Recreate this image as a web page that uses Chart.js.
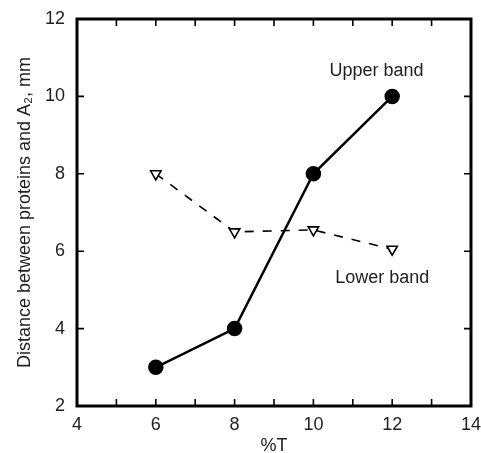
<!DOCTYPE html>
<html>
<head>
<meta charset="utf-8">
<script src="https://cdn.jsdelivr.net/npm/chart.js@4"></script>
<style>
  html, body { margin: 0; padding: 0; background: #fff; }
  canvas { display: block; }
</style>
</head>
<body>
<canvas id="chart" width="481" height="453"></canvas>
<script>
// data
const percentT = [6, 8, 10, 12];
const upperBand = [3, 4, 8, 10];
const lowerBand = [8, 6.5, 6.55, 6.05];
const xTicks = [4, 6, 8, 10, 12, 14];
const yTicks = [2, 4, 6, 8, 10, 12];
const bandLabels = [
  { text: "Upper band", x: 11.6, y: 10.65 },
  { text: "Lower band", x: 11.75, y: 5.3 }
];

const FONT = "'Liberation Sans', Arial, sans-serif";

// frame + inward ticks on all 4 sides, and the band labels
const framePlugin = {
  id: "frame",
  afterDatasetsDraw(chart) {
    const { ctx, chartArea: a, scales } = chart;
    const xs = scales.x, ys = scales.y;
    ctx.save();
    ctx.strokeStyle = "#000";
    ctx.lineWidth = 1.6;
    ctx.beginPath();
    for (let v = 5; v <= 13; v++) {
      const px = xs.getPixelForValue(v);
      ctx.moveTo(px, a.bottom); ctx.lineTo(px, a.bottom - 7);
      ctx.moveTo(px, a.top); ctx.lineTo(px, a.top + 7);
    }
    for (let v = 4; v <= 10; v += 2) {
      const py = ys.getPixelForValue(v);
      ctx.moveTo(a.left, py); ctx.lineTo(a.left + 7, py);
      ctx.moveTo(a.right, py); ctx.lineTo(a.right - 7, py);
    }
    ctx.stroke();
    ctx.lineWidth = 3;
    ctx.strokeRect(a.left, a.top, a.right - a.left, a.bottom - a.top);

    ctx.fillStyle = "#222";
    ctx.font = "18px " + FONT;
    ctx.textAlign = "center";
    ctx.textBaseline = "middle";
    bandLabels.forEach(l => {
      ctx.fillText(l.text, xs.getPixelForValue(l.x), ys.getPixelForValue(l.y));
    });
    ctx.restore();
  }
};

new Chart(document.getElementById("chart").getContext("2d"), {
  type: "line",
  data: {
    datasets: [
      {
        label: "Upper band",
        data: percentT.map((x, i) => ({ x, y: upperBand[i] })),
        borderColor: "#000",
        borderWidth: 2.5,
        pointStyle: "circle",
        pointRadius: 6.5,
        pointBackgroundColor: "#000",
        pointBorderColor: "#000",
        tension: 0
      },
      {
        label: "Lower band",
        data: percentT.map((x, i) => ({ x, y: lowerBand[i] })),
        borderColor: "#000",
        borderWidth: 1.6,
        borderDash: [9, 9],
        pointStyle: "triangle",
        rotation: 180,
        pointRadius: 6,
        pointBackgroundColor: "#fff",
        pointBorderColor: "#000",
        pointBorderWidth: 1.6,
        tension: 0
      }
    ]
  },
  options: {
    responsive: false,
    animation: false,
    events: [],
    layout: { padding: { top: 19, right: 9, left: 14, bottom: 0 } },
    plugins: {
      legend: { display: false },
      tooltip: { enabled: false }
    },
    scales: {
      x: {
        type: "linear",
        min: 4,
        max: 14,
        afterBuildTicks: s => { s.ticks = xTicks.map(v => ({ value: v })); },
        afterFit: s => { s.height = 47; },
        grid: { display: false },
        border: { display: false },
        ticks: { color: "#222", font: { family: FONT, size: 18 }, padding: 0, maxRotation: 0 },
        title: { display: true, text: "%T", color: "#222", font: { family: FONT, size: 18 }, padding: { top: 0, bottom: -4 } }
      },
      y: {
        type: "linear",
        min: 2,
        max: 12,
        afterBuildTicks: s => { s.ticks = yTicks.map(v => ({ value: v })); },
        afterFit: s => { s.width = 63; },
        grid: { display: false },
        border: { display: false },
        ticks: { color: "#222", font: { family: FONT, size: 18 }, padding: 4 },
        title: { display: true, text: "Distance between proteins and A\u2082, mm", color: "#222", font: { family: FONT, size: 18 }, padding: 0 }
      }
    }
  },
  plugins: [framePlugin]
});
</script>
</body>
</html>
